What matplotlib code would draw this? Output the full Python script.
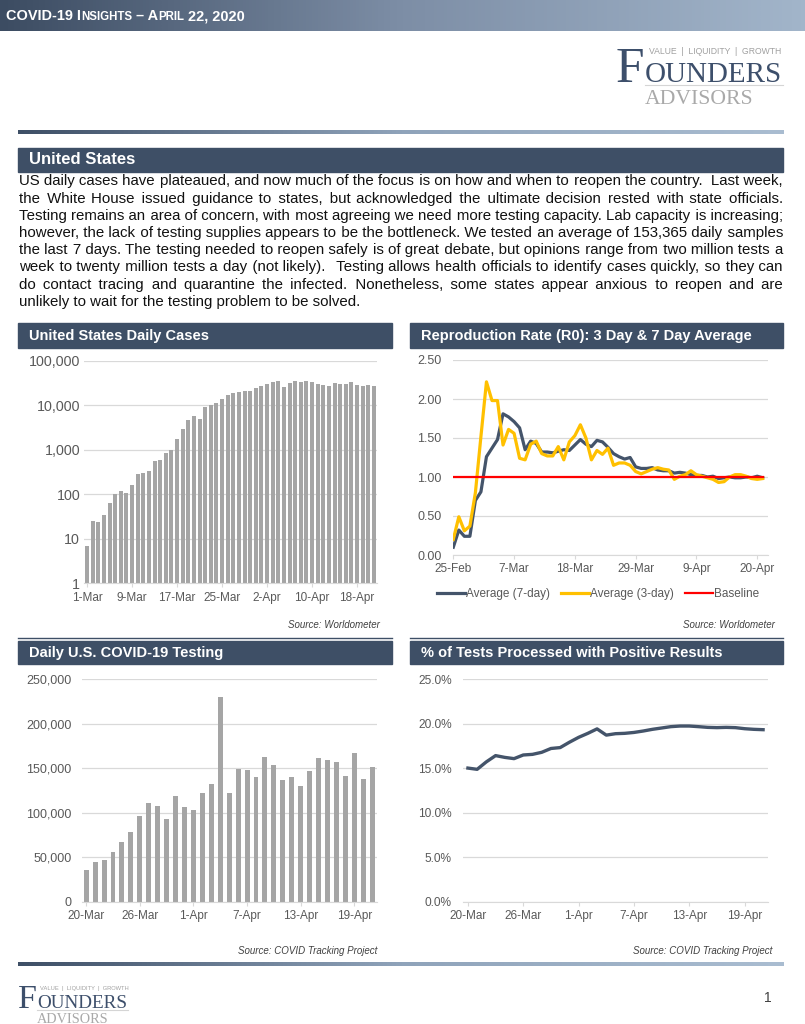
import matplotlib
matplotlib.use("Agg")
import matplotlib.pyplot as plt
import numpy as np
import pandas as pd
from matplotlib.colors import LinearSegmentedColormap
from matplotlib.patches import Rectangle
from matplotlib.ticker import FuncFormatter, NullLocator

plt.rcParams["font.family"] = ["Liberation Sans", "DejaVu Sans"]

W, H = 805, 1024
SLATE = "#3e4f66"
BAR_GRAY = "#a5a5a5"
LINE_DARK = "#44546a"
TXT_GRAY = "#595959"
GRID = "#d9d9d9"

# ---- data ----
cases_start = "2020-03-01"
cases = [7, 25, 24, 34, 63, 100, 116, 108, 165, 285,
         305, 327, 545, 578, 830, 1000, 1750, 2950, 4580, 5600,
         4900, 9300, 10300, 11200, 13500, 17300, 19000, 19800, 20400, 21000,
         25000, 27500, 30500, 33000, 34700, 26000, 32000, 34500, 32600, 34500,
         33900, 30000, 28000, 27000, 31500, 30500, 30000, 33000, 29000, 26500,
         28500, 26500]
cases_ticks = ["1-Mar", "9-Mar", "17-Mar", "25-Mar", "2-Apr", "10-Apr", "18-Apr"]

r0_start = "2020-02-25"
r0_avg7 = [0.10, 0.32, 0.24, 0.24, 0.70, 0.81, 1.26, 1.37, 1.48, 1.81,
           1.77, 1.71, 1.63, 1.35, 1.46, 1.43, 1.32, 1.32, 1.31, 1.33,
           1.35, 1.34, 1.41, 1.48, 1.42, 1.39, 1.47, 1.45, 1.38, 1.30,
           1.26, 1.23, 1.25, 1.13, 1.11, 1.11, 1.12, 1.09, 1.08, 1.08,
           1.05, 1.06, 1.05, 1.03, 1.02, 1.02, 1.00, 1.01, 0.98, 0.99,
           1.00, 0.99, 0.99, 1.00, 0.99, 1.01, 0.99]
r0_avg3 = [0.20, 0.49, 0.31, 0.37, 0.80, 1.52, 2.22, 1.98, 1.98, 1.41,
           1.61, 1.56, 1.24, 1.22, 1.42, 1.46, 1.30, 1.27, 1.27, 1.39,
           1.22, 1.45, 1.53, 1.67, 1.50, 1.22, 1.34, 1.29, 1.37, 1.15,
           1.18, 1.18, 1.15, 1.07, 1.04, 1.07, 1.10, 1.12, 1.10, 1.09,
           0.97, 1.01, 1.03, 1.08, 1.03, 1.01, 0.99, 0.97, 0.93, 0.94,
           1.00, 1.03, 1.03, 1.01, 0.98, 0.97, 0.98]
r0_baseline = [1.0] * 57
r0_ticks = ["25-Feb", "7-Mar", "18-Mar", "29-Mar", "9-Apr", "20-Apr"]

tests_start = "2020-03-20"
tests = [35500, 45000, 46400, 55400, 66600, 78600, 96200, 110800, 107800, 92800,
         118600, 106700, 102900, 121600, 132100, 229400, 122400, 149300, 147800, 139600,
         162800, 153800, 136200, 140300, 129500, 146700, 160900, 158700, 156400, 141100,
         167300, 137700, 151600]
positive = [15.0, 14.86, 15.7, 16.4, 16.2, 16.06, 16.47, 16.54, 16.77, 17.2,
            17.3, 17.9, 18.45, 18.9, 19.4, 18.7, 18.86, 18.9, 19.0, 19.16,
            19.35, 19.5, 19.65, 19.72, 19.72, 19.65, 19.57, 19.54, 19.57, 19.54,
            19.42, 19.35, 19.31]
tests_ticks = ["20-Mar", "26-Mar", "1-Apr", "7-Apr", "13-Apr", "19-Apr"]

paragraph = [
    "US daily cases have plateaued, and now much of the focus is on how and when to reopen the country.  Last week,",
    "the White House issued guidance to states, but acknowledged the ultimate decision rested with state officials.",
    "Testing remains an area of concern, with most agreeing we need more testing capacity. Lab capacity is increasing;",
    "however, the lack of testing supplies appears to be the bottleneck. We tested an average of 153,365 daily samples",
    "the last 7 days. The testing needed to reopen safely is of great debate, but opinions range from two million tests a",
    "week to twenty million tests a day (not likely).  Testing allows health officials to identify cases quickly, so they can",
    "do contact tracing and quarantine the infected. Nonetheless, some states appear anxious to reopen and are",
    "unlikely to wait for the testing problem to be solved.",
]


def day_labels(start, n):
    d = pd.date_range(start, periods=n, freq="D")
    return [f"{x.day}-{x.strftime('%b')}" for x in d]


fig = plt.figure(figsize=(W / 100, H / 100), dpi=100)
bg = fig.add_axes([0, 0, 1, 1], zorder=0)
renderer = fig.canvas.get_renderer()


def reset_bg():
    bg.set_xlim(0, W)
    bg.set_ylim(H, 0)
    bg.axis("off")


def width_of(t):
    return t.get_window_extent(renderer=renderer).width


def str_width(s, size):
    t = bg.text(0, 0, s, fontsize=size)
    w = width_of(t)
    t.remove()
    return w


def fit_text(x0, x1, y, s, **kw):
    t = bg.text(x0, y, s, fontsize=10, ha="left", va="baseline", **kw)
    w = width_of(t)
    t.set_fontsize(10 * (x1 - x0) / w)
    return t


def gradient(x0, x1, y0, y1, colors):
    cmap = LinearSegmentedColormap.from_list("g", colors)
    bg.imshow(np.linspace(0, 1, 256)[None, :], extent=(x0, x1, y1, y0),
              cmap=cmap, aspect="auto", zorder=1, interpolation="bicubic")


def px_rect(x0, y0, x1, y1):
    return [x0 / W, 1 - y1 / H, (x1 - x0) / W, (y1 - y0) / H]


# ---- page furniture ----
gradient(0, W, 0, 31, ["#3c4c62", "#7d8ea6", "#a2b5ca"])
gradient(18, 783, 131, 134.5, ["#3e4f66", "#8fa3ba", "#aabdd1"])
gradient(18, 783, 962.5, 966, ["#3e4f66", "#8fa3ba", "#aabdd1"])
reset_bg()

# small caps banner title
parts = [("COVID-19 I", 1.0), ("NSIGHTS", 0.8), (" \u2013 A", 1.0), ("PRIL", 0.8), (" 22, 2020", 1.0)]
objs = []
for s, k in parts:
    objs.append((bg.text(0, 20.5, s, fontsize=10 * k, fontweight="bold", color="white",
                         ha="left", va="baseline", zorder=3), k))
total = sum(width_of(t) for t, _ in objs)
scale = 238 / total
x = 6
for t, k in objs:
    t.set_fontsize(10 * k * scale)
    t.set_x(x)
    x += width_of(t)


def draw_logo(x0, yt, s):
    fam = ["Liberation Serif", "DejaVu Serif"]
    bg.text(x0, yt + 36.7 * s, "F", fontsize=37 * s, family=fam, color="#3d4f6b",
            ha="left", va="baseline")
    fit_text(x0 + 29 * s, x0 + 167 * s, yt + 36.7 * s, "OUNDERS", family=fam, color="#3d4f6b")
    fit_text(x0 + 33 * s, x0 + 167 * s, yt + 9.5 * s, "VALUE  |  LIQUIDITY  |  GROWTH",
             color="#a0a0a0")
    bg.plot([x0 + 29 * s, x0 + 167 * s], [yt + 39.5 * s] * 2, color="#d5d5d5", lw=0.8)
    fit_text(x0 + 29 * s, x0 + 137 * s, yt + 59 * s, "ADVISORS", family=fam, color="#a9a9a9")


draw_logo(616, 45, 1.0)
draw_logo(18, 984, 0.66)
bg.text(768, 998, "1", fontsize=10, color="#404040", ha="center", va="center")

# section header
bg.add_patch(Rectangle((18, 148), 765, 23.5, color=SLATE, zorder=2))
bg.text(29, 160, "United States", fontsize=12, fontweight="bold", color="white",
        ha="left", va="center", zorder=3)

# justified paragraph: one text per line, gaps built from normal + thin/hair spaces
x_left, x_right = 19, 783
nat = max(str_width(ln, 10) for ln in paragraph[:-1])
psize = 10 * (x_right - x_left) / nat * 0.995
base = str_width("xx", psize)
seps = [" ", " \u200a", " \u2009", " \u2009\u200a", "  ", " \u2009\u2009", "  \u200a", "  \u2009"]
sep_w = [str_width("x" + s + "x", psize) - base for s in seps]
for i, line in enumerate(paragraph):
    yb = 185.3 + i * 17.2
    if i == len(paragraph) - 1:
        bg.text(x_left, yb, line, fontsize=psize, color="#111111", ha="left", va="baseline")
        continue
    words = line.split(" ")
    ngap = len(words) - 1
    target = (x_right - x_left) - str_width("".join(words), psize)
    built, acc = words[0], 0.0
    for k, w in enumerate(words[1:], start=1):
        want = target * k / ngap
        j = int(np.argmin([abs(acc + sw - want) for sw in sep_w]))
        acc += sep_w[j]
        built += seps[j] + w
    bg.text(x_left, yb, built, fontsize=psize, color="#111111", ha="left", va="baseline")

# chart headers, sources and rules
headers = [
    (18, 323, 392, 347.5, "United States Daily Cases"),
    (410, 323, 783, 347.5, "Reproduction Rate (R0): 3 Day & 7 Day Average"),
    (18, 640.5, 392, 664, "Daily U.S. COVID-19 Testing"),
    (410, 640.5, 783, 664, "% of Tests Processed with Positive Results"),
]
for x0, y0, x1, y1, title in headers:
    bg.add_patch(Rectangle((x0, y0), x1 - x0, y1 - y0, color=SLATE, zorder=2))
    bg.text(x0 + 11, (y0 + y1) / 2 + 0.5, title, fontsize=10.5, fontweight="bold",
            color="white", ha="left", va="center", zorder=3)

for xr, y, s in [(380, 625, "Source: Worldometer"), (775, 625, "Source: Worldometer"),
                 (377, 951.5, "Source: COVID Tracking Project"),
                 (772, 951.5, "Source: COVID Tracking Project")]:
    bg.text(xr, y, s, fontsize=7, fontstyle="italic", color="#404040", ha="right", va="center")

bg.plot([18, 392], [638.3, 638.3], color=SLATE, lw=1.0)
bg.plot([410, 783], [638.3, 638.3], color=SLATE, lw=1.0)
reset_bg()


def style(ax, ypad, ysize):
    ax.set_facecolor("none")
    for s in ["top", "right", "left"]:
        ax.spines[s].set_visible(False)
    ax.spines["bottom"].set_color(GRID)
    ax.grid(axis="y", color=GRID, lw=0.9)
    ax.set_axisbelow(True)
    ax.tick_params(axis="y", length=0, pad=ypad, labelsize=ysize, labelcolor=TXT_GRAY)
    ax.tick_params(axis="x", length=3, color=GRID, pad=3, labelsize=8.5, labelcolor=TXT_GRAY)


# ---- Chart 1: daily cases (log) ----
cl = day_labels(cases_start, len(cases))
ax1 = fig.add_axes(px_rect(84.3, 360.7, 376.7, 583.3), zorder=2)
ax1.bar(range(len(cases)), cases, width=0.72, color=BAR_GRAY, zorder=2)
ax1.set_yscale("log")
ax1.set_ylim(1, 100000)
ax1.set_yticks([1, 10, 100, 1000, 10000, 100000])
ax1.yaxis.set_minor_locator(NullLocator())
ax1.yaxis.set_major_formatter(FuncFormatter(lambda v, _: f"{v:,.0f}"))
ax1.set_xlim(-0.5, len(cases) - 0.5)
ax1.set_xticks([cl.index(t) for t in cases_ticks])
ax1.set_xticklabels(cases_ticks)
style(ax1, 3, 10.3)

# ---- Chart 2: R0 ----
rl = day_labels(r0_start, len(r0_avg7))
ax2 = fig.add_axes(px_rect(453.3, 360, 767.7, 555), zorder=2)
xs = range(len(r0_avg7))
h7, = ax2.plot(xs, r0_avg7, color=LINE_DARK, lw=2.3, label="Average (7-day)")
h3, = ax2.plot(xs, r0_avg3, color="#ffc000", lw=2.3, label="Average (3-day)")
hb, = ax2.plot(xs, r0_baseline, color="#ff0000", lw=1.6, label="Baseline")
ax2.set_ylim(0, 2.5)
ax2.set_yticks(np.arange(0, 2.51, 0.5))
ax2.yaxis.set_major_formatter(FuncFormatter(lambda v, _: f"{v:.2f}"))
ax2.set_xlim(0, len(r0_avg7) - 0.1)
ax2.set_xticks([rl.index(t) for t in r0_ticks])
ax2.set_xticklabels(r0_ticks)
style(ax2, 8.5, 9)
fig.legend(handles=[h7, h3, hb], loc="center", bbox_to_anchor=(598 / W, 1 - 594 / H),
           ncol=3, frameon=False, fontsize=8.5, handlelength=2.4, handletextpad=0.1,
           columnspacing=0.9, labelcolor=TXT_GRAY)

# ---- Chart 3: testing ----
tl = day_labels(tests_start, len(tests))
ax3 = fig.add_axes(px_rect(81.7, 679, 376.7, 901.7), zorder=2)
ax3.bar(range(len(tests)), tests, width=0.55, color=BAR_GRAY, zorder=2)
ax3.set_ylim(0, 250000)
ax3.set_yticks(np.arange(0, 250001, 50000))
ax3.yaxis.set_major_formatter(FuncFormatter(lambda v, _: f"{v:,.0f}"))
ax3.set_xlim(-0.5, len(tests) - 0.5)
ax3.set_xticks([tl.index(t) for t in tests_ticks])
ax3.set_xticklabels(tests_ticks)
style(ax3, 7.2, 9)

# ---- Chart 4: positive rate ----
ax4 = fig.add_axes(px_rect(463.3, 679, 767.7, 901.7), zorder=2)
ax4.plot(range(len(positive)), positive, color=LINE_DARK, lw=2.4)
ax4.set_ylim(0, 25)
ax4.set_yticks(np.arange(0, 25.1, 5))
ax4.yaxis.set_major_formatter(FuncFormatter(lambda v, _: f"{v:.1f}%"))
ax4.set_xlim(-0.5, len(positive) - 0.5)
ax4.set_xticks([tl.index(t) for t in tests_ticks])
ax4.set_xticklabels(tests_ticks)
style(ax4, 8.4, 8.6)

fig.savefig("out.png", dpi=100)
